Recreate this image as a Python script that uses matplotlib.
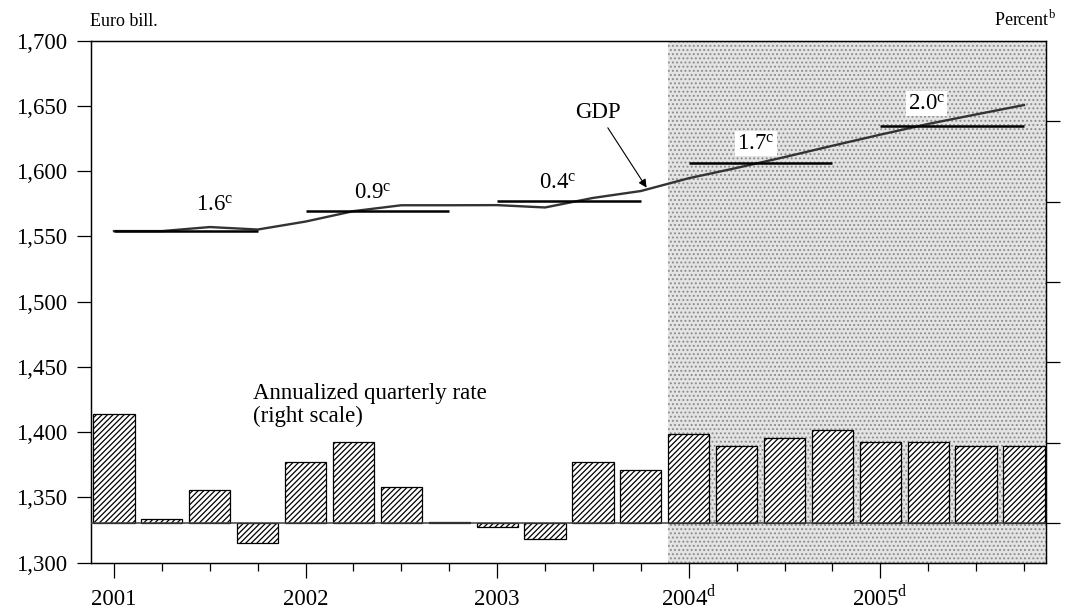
import matplotlib
matplotlib.use("Agg")
import matplotlib.pyplot as plt
from matplotlib.ticker import FuncFormatter, FixedLocator

plt.rcParams["font.family"] = ["Liberation Serif", "DejaVu Serif"]
plt.rcParams["mathtext.fontset"] = "custom"
plt.rcParams["mathtext.rm"] = "Liberation Serif"
plt.rcParams["hatch.linewidth"] = 0.9

# DATA
quarters = list(range(20))  # 2001Q1 .. 2005Q4
year_labels = ["2001", "2002", "2003", r"2004$^{\mathregular{d}}$", r"2005$^{\mathregular{d}}$"]

# real GDP, euro bill. (left scale)
gdp = [1554.1, 1554.1, 1557.2, 1555.3,
       1561.4, 1569.4, 1573.9, 1573.9,
       1574.0, 1572.2, 1579.5, 1584.8,
       1594.6, 1602.5, 1610.8, 1619.5,
       1628.0, 1636.2, 1643.5, 1650.7]

# annualized quarterly rate, percent (right scale)
qrate = [2.71, 0.11, 0.82, -0.50,
         1.52, 2.01, 0.91, 0.02,
         -0.10, -0.40, 1.52, 1.32,
         2.21, 1.91, 2.11, 2.31,
         2.01, 2.01, 1.91, 1.91]

# annual averages and growth labels
annual_avg = [1554.0, 1569.7, 1577.0, 1606.0, 1634.9]
annual_growth = ["1.6", "0.9", "0.4", "1.7", "2.0"]
label_x = [2.1, 5.41, 9.27, 13.4, 16.96]
label_y = [1569.6, 1579.2, 1586.4, 1616.8, 1647.4]

forecast_start = 11.57

# FIGURE
fig = plt.figure(figsize=(10.66, 6.13), dpi=100)
ax = fig.add_axes([0.0851, 0.0821, 0.8957, 0.8515])
ax.set_xlim(-0.486, 19.45)
ax.set_ylim(1300, 1700)

# shaded forecast period
ax.axvspan(forecast_start, 19.45, facecolor="#e4e4e4", edgecolor="#8c8c8c",
           hatch="....", linewidth=0, zorder=0)

# GDP line
ax.plot(quarters, gdp, color="#333333", lw=1.7, zorder=3)

# annual average segments + labels
for k in range(5):
    ax.hlines(annual_avg[k], 4 * k, 4 * k + 3, color="black", lw=1.8, zorder=4)
    boxed = k >= 3
    ax.text(label_x[k], label_y[k], r"$\mathregular{" + annual_growth[k] + "^c}$",
            ha="center", va="baseline", fontsize=16.5, zorder=5,
            bbox=dict(facecolor="white", edgecolor="none", pad=1.5) if boxed else None)

ax.annotate("GDP", xy=(11.12, 1587.4), xytext=(10.1, 1641.0),
            ha="center", va="baseline", fontsize=16.5,
            arrowprops=dict(arrowstyle="-|>", color="black", lw=0.8,
                            mutation_scale=12, shrinkA=2, shrinkB=0))

ax.text(2.9, 1437.7, "Annualized quarterly rate\n(right scale)",
        ha="left", va="top", fontsize=16.5, linespacing=1.1)

# axes styling
ax.set_yticks(range(1300, 1701, 50))
ax.yaxis.set_major_formatter(FuncFormatter(lambda v, p: f"{int(v):,}"))
ax.xaxis.set_major_locator(FixedLocator([0, 4, 8, 12, 16]))
ax.xaxis.set_minor_locator(FixedLocator([q for q in quarters if q % 4 != 0]))
ax.set_xticklabels(year_labels)
ax.tick_params(axis="y", which="major", length=10, width=0.9, direction="out",
               labelsize=16.5, pad=7)
ax.tick_params(axis="x", which="major", length=10.5, width=0.9, direction="out",
               labelsize=16.5, pad=20)
ax.tick_params(axis="x", which="minor", length=6, width=0.9, direction="out")
for lab in ax.get_xticklabels():
    lab.set_verticalalignment("baseline")
for s in ax.spines.values():
    s.set_linewidth(0.9)

# BARS ON RIGHT SCALE
ax2 = ax.twinx()
ax2.set_ylim(-0.98, 12.0)
ax2.bar(quarters, qrate, width=0.86, facecolor="white", edgecolor="black",
        hatch="//////", linewidth=0.9, zorder=2)
ax2.axhline(0, color="#404040", lw=1.1, zorder=3)
ax2.set_yticks([0, 2, 4, 6, 8, 10])
ax2.tick_params(axis="y", length=10, width=0.9, direction="out", labelright=False)
ax2.set_xlim(-0.486, 19.45)
for s in ax2.spines.values():
    s.set_linewidth(0.9)

fig.text(90 / 1066, 1 - 26 / 613, "Euro bill.", ha="left", va="baseline", fontsize=13)
fig.text(1056 / 1066, 1 - 26 / 613, r"Percent$^{\mathregular{b}}$", ha="right",
         va="baseline", fontsize=13)

fig.savefig("out.png", dpi=100)
